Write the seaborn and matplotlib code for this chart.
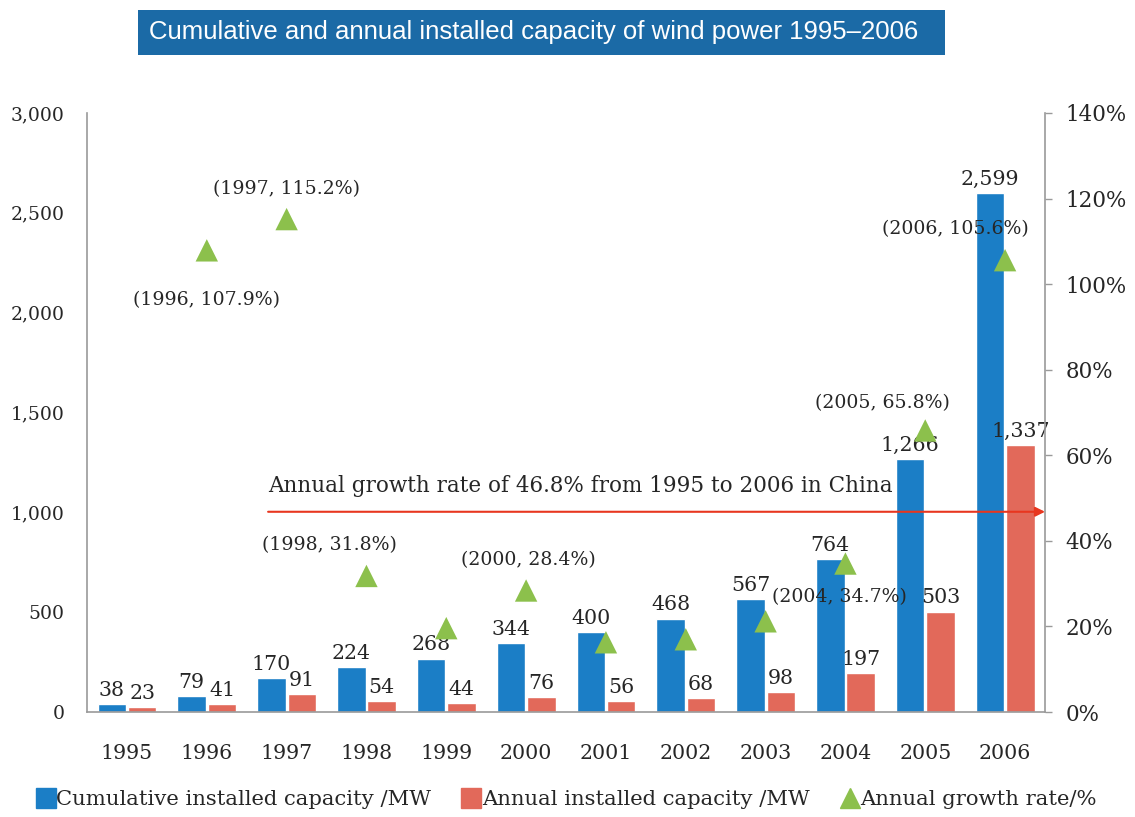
import numpy as np
import pandas as pd
import matplotlib.pyplot as plt
import seaborn as sns
from matplotlib.lines import Line2D
from matplotlib.patches import Rectangle
from matplotlib.ticker import FuncFormatter

# ================= DATA =================
years = ["1995", "1996", "1997", "1998", "1999", "2000",
         "2001", "2002", "2003", "2004", "2005", "2006"]
cumulative = [38, 79, 170, 224, 268, 344, 400, 468, 567, 764, 1266, 2599]
annual = [23, 41, 91, 54, 44, 76, 56, 68, 98, 197, 503, 1337]
growth = [np.nan, 107.9, 115.2, 31.8, 19.6, 28.4, 16.3, 17.0, 21.2, 34.7, 65.8, 105.6]
labelled_years = ["1996", "1997", "1998", "2000", "2004", "2005", "2006"]
avg_growth = 46.8

series_names = ["Cumulative installed capacity /MW", "Annual installed capacity /MW"]
growth_name = "Annual growth rate/%"
title = "Cumulative and annual installed capacity of wind power 1995\u20132006"
arrow_text = "Annual growth rate of 46.8% from 1995 to 2006 in China"

# label offsets (pixels) for the growth annotations
label_offsets = {"1996": (0, -50), "1997": (0, 30), "1998": (-37, 31), "2000": (2, 30),
                 "2004": (-6, -34), "2005": (-43, 27), "2006": (-50, 31)}

BLUE = "#1b7ec6"
RED = "#e2695a"
GREEN = "#8cc04c"
BANNER = "#1b6aa6"
SPINE = "#9a9a9a"

sns.set_style("white")
plt.rcParams["font.family"] = ["DejaVu Serif"]

df = pd.DataFrame({
    "year": years * 2,
    "value": cumulative + annual,
    "series": [series_names[0]] * len(years) + [series_names[1]] * len(years),
})

fig = plt.figure(figsize=(11.35, 8.17), dpi=100)
ax = fig.add_axes([0.0767, 0.1285, 0.8440, 0.7332])

sns.barplot(data=df, x="year", y="value", hue="series", order=years,
            palette=[BLUE, RED], width=0.76, gap=0.06, saturation=1,
            legend=False, ax=ax)

for cont in ax.containers:
    ax.bar_label(cont, labels=[f"{v:,.0f}" for v in cont.datavalues],
                 padding=3, fontsize=14.8)

ax.set_ylim(0, 3000)
ax.set_xlim(-0.5, len(years) - 0.5)
ax.set_yticks(range(0, 3001, 500))
ax.yaxis.set_major_formatter(FuncFormatter(lambda v, p: f"{v:,.0f}"))
ax.set_xticks(range(len(years)), labels=years, fontsize=14.8)
ax.set_xlabel("")
ax.set_ylabel("")
ax.tick_params(axis="y", length=0, pad=16, labelsize=13.5)
ax.tick_params(axis="x", length=0, pad=23)
for s in ["top", "right"]:
    ax.spines[s].set_visible(False)
for s in ["left", "bottom"]:
    ax.spines[s].set_color(SPINE)
    ax.spines[s].set_linewidth(1.2)

# growth rate on secondary axis
ax2 = ax.twinx()
gdf = pd.DataFrame({"pos": np.arange(len(years)), "year": years, "growth": growth}).dropna()
sns.scatterplot(data=gdf, x="pos", y="growth", marker="^", s=260, color=GREEN,
                edgecolor="none", ax=ax2, zorder=5)
ax2.set_ylim(0, 140)
ax2.set_yticks(range(0, 141, 20))
ax2.yaxis.set_major_formatter(FuncFormatter(lambda v, p: f"{v:.0f}%"))
ax2.set_ylabel("")
ax2.tick_params(axis="y", length=5, width=1, color=SPINE, pad=10, labelsize=15.5)
for s in ["top", "left", "bottom"]:
    ax2.spines[s].set_visible(False)
ax2.spines["right"].set_color(SPINE)
ax2.spines["right"].set_linewidth(1.2)

for _, row in gdf.iterrows():
    if row["year"] in labelled_years:
        dx, dy = label_offsets[row["year"]]
        ax2.annotate(f"({row['year']}, {row['growth']:.1f}%)",
                     xy=(row["pos"], row["growth"]), xytext=(dx, dy),
                     textcoords="offset pixels", ha="center", va="center",
                     fontsize=13.6, zorder=6)

# average growth arrow
ax2.annotate("", xy=(1.0, avg_growth), xytext=(0.189, avg_growth),
             xycoords=("axes fraction", "data"),
             arrowprops=dict(arrowstyle="-|>", color="#e8361f", lw=1.5,
                             mutation_scale=14, shrinkA=0, shrinkB=0))
ax2.annotate(arrow_text, xy=(0.189, avg_growth), xycoords=("axes fraction", "data"),
             xytext=(0, 26), textcoords="offset pixels", ha="left", va="center",
             fontsize=15.5)

# title banner
fig.add_artist(Rectangle((0.1215, 0.933), 0.711, 0.055, transform=fig.transFigure,
                         facecolor=BANNER, edgecolor="none"))
fig.text(0.4705, 0.9605, title, ha="center", va="center", color="white",
         fontsize=18.5, family=["Liberation Sans", "DejaVu Sans"])

# legend
handles = [
    Line2D([], [], marker="s", color=BLUE, linestyle="none", markersize=14),
    Line2D([], [], marker="s", color=RED, linestyle="none", markersize=14),
    Line2D([], [], marker="^", color=GREEN, linestyle="none", markersize=15),
]
fig.legend(handles, series_names + [growth_name], loc="center left",
           bbox_to_anchor=(0.016, 0.021), ncol=3, frameon=False, fontsize=15.2,
           handlelength=0.8, handletextpad=0.1, columnspacing=1.5)

plt.savefig("out.png", dpi=100)
plt.close()
